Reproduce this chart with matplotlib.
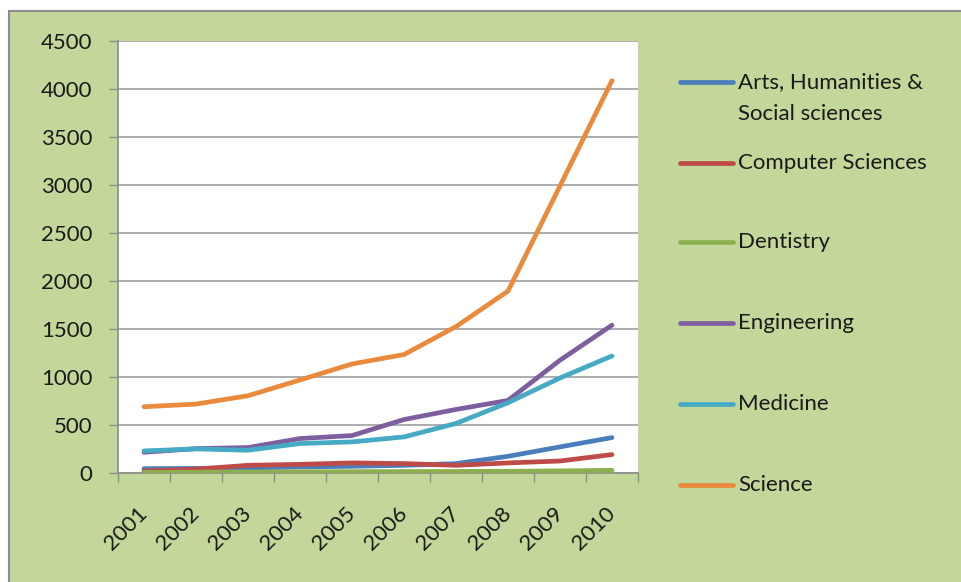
import matplotlib
matplotlib.use('Agg')
import matplotlib.pyplot as plt
from matplotlib.patches import Rectangle
from matplotlib.lines import Line2D

plt.rcParams['font.family'] = ['Lato', 'DejaVu Sans']

years = ['2001', '2002', '2003', '2004', '2005', '2006', '2007', '2008', '2009', '2010']
labels = ['Arts, Humanities &\nSocial sciences', 'Computer Sciences', 'Dentistry',
          'Engineering', 'Medicine', 'Science']

arts = [45, 48, 52, 63, 70, 80, 98, 174, 272, 369]
compsci = [20, 40, 80, 90, 105, 98, 80, 105, 125, 192]
dentistry = [5, 8, 10, 12, 14, 15, 16, 18, 22, 28]
engineering = [216, 254, 265, 359, 390, 557, 662, 756, 1175, 1540]
medicine = [230, 251, 237, 307, 324, 376, 516, 732, 990, 1219]
science = [690, 718, 805, 969, 1136, 1234, 1525, 1895, 2990, 4087]

series = [arts, compsci, dentistry, engineering, medicine, science]
colors = ['#4A7EBB', '#BE4B48', '#8DB04F', '#7D5FA0', '#46AAC5', '#EA8A3C']

W, H = 961, 582
fig = plt.figure(figsize=(W / 100, H / 100), dpi=100)
fig.patch.set_facecolor('white')

# green chart area with grey border
fig.add_artist(Rectangle((9 / W, -0.01), 1.0, 1 - 11 / H + 0.01, transform=fig.transFigure,
                         facecolor='#C4D79B', edgecolor='#8C8C8C', linewidth=1.5, zorder=0))

ax = fig.add_axes([118 / W, 1 - 473 / H, (638 - 118) / W, (473 - 41) / H])
ax.set_facecolor('white')

x = list(range(len(years)))
for vals, c in zip(series, colors):
    ax.plot(x, vals, color=c, linewidth=3.4, solid_capstyle='round', solid_joinstyle='round', zorder=3)

ax.set_ylim(0, 4500)
ax.set_yticks(range(0, 4501, 500))
ax.set_xlim(-0.5, len(years) - 0.5)
ax.set_xticks([i - 0.5 for i in range(len(years) + 1)])
ax.set_xticklabels([])
ax.set_xticks(x, minor=True)
ax.set_xticklabels(years, minor=True, rotation=45, ha='right', va='center', rotation_mode='anchor')

ax.grid(axis='y', color='#A6A6A6', linewidth=1.3)
ax.set_axisbelow(True)
for s in ['top', 'right']:
    ax.spines[s].set_visible(False)
for s in ['left', 'bottom']:
    ax.spines[s].set_color('#8C8C8C')
    ax.spines[s].set_linewidth(1.2)

fs = 16
ax.tick_params(axis='y', length=6.5, width=1.0, color='#8C8C8C', pad=12, labelsize=fs, labelcolor='#1a1a1a')
ax.tick_params(axis='x', which='major', length=6.5, width=1.0, color='#8C8C8C')
ax.tick_params(axis='x', which='minor', length=0, pad=27, labelsize=fs, labelcolor='#1a1a1a')

# legend drawn by hand to keep Excel-like spacing
leg_y = [98, 163, 242, 323, 404, 485]
handle_y = [82, 163, 242, 323, 404, 485]
for lab, c, ty, hy in zip(labels, colors, leg_y, handle_y):
    fig.add_artist(Line2D([680 / W, 733 / W], [1 - hy / H, 1 - hy / H], transform=fig.transFigure,
                          color=c, linewidth=3.4, solid_capstyle='round'))
    fig.text(738 / W, 1 - ty / H, lab, fontsize=fs, va='center', ha='left', color='#1a1a1a',
             linespacing=1.7)

fig.savefig('out.png', dpi=100, facecolor=fig.get_facecolor())
